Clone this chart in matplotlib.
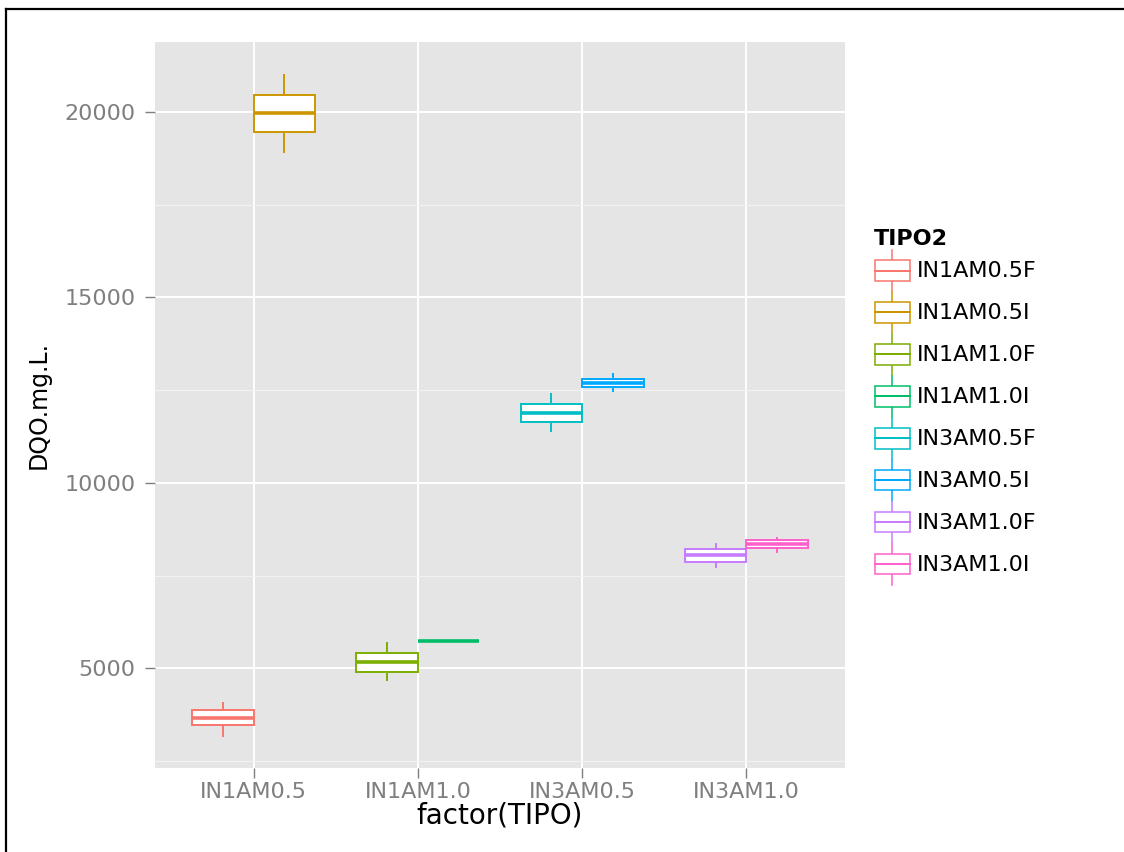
import matplotlib
matplotlib.use("Agg")
import matplotlib.pyplot as plt
from matplotlib.patches import Rectangle
from matplotlib.lines import Line2D
from matplotlib.legend_handler import HandlerBase

plt.rcParams['font.family'] = ['DejaVu Sans']

####### data #######
tipo = ["IN1AM0.5", "IN1AM1.0", "IN3AM0.5", "IN3AM1.0"]
tipo2 = ["IN1AM0.5F", "IN1AM0.5I", "IN1AM1.0F", "IN1AM1.0I",
         "IN3AM0.5F", "IN3AM0.5I", "IN3AM1.0F", "IN3AM1.0I"]
tipo_of = [0, 0, 1, 1, 2, 2, 3, 3]
whis_lo = [3180, 18925, 4686, 5734, 11406, 12481, 7734, 8137]
q1 = [3476, 19470, 4911, 5734, 11631, 12572, 7868, 8244]
median = [3656, 19981, 5180, 5734, 11881, 12688, 8064, 8341]
q3 = [3863, 20457, 5403, 5734, 12123, 12814, 8226, 8449]
whis_hi = [4059, 20990, 5672, 5734, 12392, 12930, 8360, 8521]
colors = ["#F8766D", "#CD9600", "#7CAE00", "#00BE67",
          "#00BFC4", "#00A9FF", "#C77CFF", "#FF61CC"]
y_ticks = [5000, 10000, 15000, 20000]
y_minor = [2500, 7500, 12500, 17500]


class BoxKey(HandlerBase):
    """legend key drawn like a small boxplot"""
    def create_artists(self, legend, orig_handle, xdescent, ydescent,
                       width, height, fontsize, trans):
        c = orig_handle.get_edgecolor()
        x0, y0 = -xdescent, -ydescent
        lw = 1.1
        wl = Line2D([x0 + width / 2] * 2, [y0, y0 + 0.25 * height], color=c, lw=lw, transform=trans)
        wh = Line2D([x0 + width / 2] * 2, [y0 + 0.75 * height, y0 + height], color=c, lw=lw, transform=trans)
        rect = Rectangle((x0 + 0.03 * width, y0 + 0.25 * height), 0.94 * width, 0.5 * height,
                         facecolor="white", edgecolor=c, lw=lw, transform=trans)
        med = Line2D([x0 + 0.03 * width, x0 + 0.97 * width], [y0 + 0.5 * height] * 2,
                     color=c, lw=lw * 1.3, transform=trans)
        return [wl, wh, rect, med]


W, H = 1124, 852
fig = plt.figure(figsize=(W / 100, H / 100), dpi=100)
ax = fig.add_axes([155 / W, 1 - 768 / H, (845 - 155) / W, (768 - 42) / H])
ax.set_facecolor("#E5E5E5")

box_w = 0.75 / 2
handles = []
for i in range(len(tipo2)):
    side = -1 if i % 2 == 0 else 1
    pos = tipo_of[i] + 1 + side * box_w / 2
    stats = dict(whislo=whis_lo[i], q1=q1[i], med=median[i], q3=q3[i], whishi=whis_hi[i])
    ax.bxp([stats], positions=[pos], widths=box_w, patch_artist=True,
           showfliers=False, showcaps=False,
           boxprops=dict(facecolor="white", edgecolor=colors[i], linewidth=1.4),
           medianprops=dict(color=colors[i], linewidth=2.6, solid_capstyle="butt"),
           whiskerprops=dict(color=colors[i], linewidth=1.4), zorder=3)
    handles += [Rectangle((0, 0), 1, 1, facecolor="white", edgecolor=colors[i])]

ax.set_xlim(0.4, 4.6)
ax.set_ylim(2310, 21890)
ax.set_xticks(range(1, len(tipo) + 1))
ax.set_xticklabels(tipo)
ax.set_yticks(y_ticks)
ax.set_yticks(y_minor, minor=True)
ax.grid(True, which="major", color="white", linewidth=1.4, zorder=0)
ax.grid(True, which="minor", axis="y", color="#F2F2F2", linewidth=0.8, zorder=0)
ax.set_axisbelow(True)
for s in ax.spines.values():
    s.set_visible(False)
ax.tick_params(which="major", length=7, width=1, color="#7F7F7F",
               labelcolor="#7F7F7F", labelsize=16)
ax.tick_params(axis="y", pad=7)
ax.tick_params(axis="x", pad=3)
ax.tick_params(which="minor", length=0)

ax.set_xlabel("factor(TIPO)", fontsize=20, labelpad=0)
ax.set_ylabel("DQO.mg.L.", fontsize=17, labelpad=10)

leg = ax.legend(handles, tipo2, handler_map={Rectangle: BoxKey()},
                title="TIPO2", loc="upper left",
                bbox_to_anchor=(874 / W, 1 - 229 / H), bbox_transform=fig.transFigure,
                frameon=False, fontsize=16, title_fontsize=16,
                handlelength=1.65, handleheight=2.45, labelspacing=0.05,
                handletextpad=0.3, borderpad=0, borderaxespad=0, alignment="left")
leg.get_title().set_fontweight("bold")

# frame lines along top and left edge
fig.add_artist(Line2D([6 / W, 6 / W], [0, 1 - 9 / H], color="black", lw=1.6))
fig.add_artist(Line2D([6 / W, 1], [1 - 9 / H, 1 - 9 / H], color="black", lw=1.6))

fig.savefig("out.png", dpi=100)
